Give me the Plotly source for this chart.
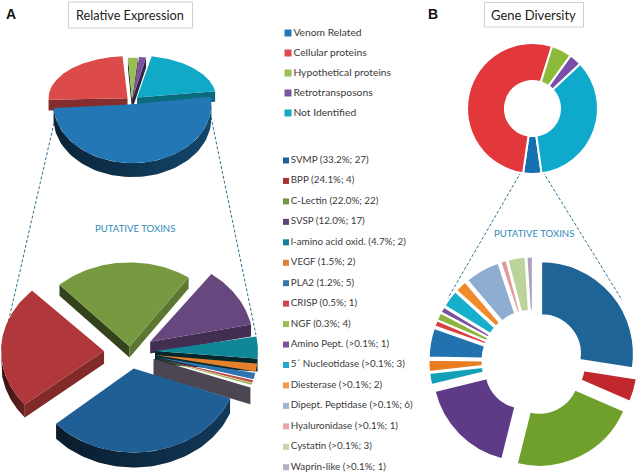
import numpy as np
import plotly.graph_objects as go

# ---- data ----
OVERVIEW_CATS = ["Venom Related", "Cellular proteins", "Hypothetical proteins", "Retrotransposons", "Not Identified"]
OVERVIEW_COLORS = ["#2277B4", "#DC4A4A", "#98BE55", "#7A549F", "#10A9C6"]
EXPR_SHARE = [51.4, 25.0, 2.0, 1.6, 20.0]
EXPR_PULL = [4.5, 6, 2, 3, 7]
GENE_SHARE = [16, 186, 18, 11, 123]

TOXINS = ["SVMP (33.2%; 27)", "BPP (24.1%; 4)", "C-Lectin (22.0%; 22)", "SVSP (12.0%; 17)",
          "l-amino acid oxid. (4.7%; 2)", "VEGF (1.5%; 2)", "PLA2 (1.2%; 5)", "CRISP (0.5%; 1)",
          "NGF (0.3%; 4)", "Amino Pept. (>0.1%; 1)", "5\u00b4 Nucleotidase (>0.1%; 3)",
          "Diesterase (>0.1%; 2)", "Dipept. Peptidase (>0.1%; 6)", "Hyaluronidase (>0.1%; 1)",
          "Cystatin (>0.1%; 3)", "Waprin-like (>0.1%; 1)"]
TOX_COLORS = ["#1F5F95", "#B0383A", "#77993F", "#66487F", "#0F8799", "#E5812C", "#2E75B0", "#C24C48",
              "#8CB43F", "#7A52A0", "#16AFCC", "#F08A2A", "#8FADD0", "#E09A9A", "#BCD49C", "#B0A0C4"]
TOX_LEGEND_COLORS = ["#1F5F95", "#A93232", "#6F9A3C", "#5A4478", "#15809A", "#E0803A", "#3478A8", "#C8484C",
                     "#98BE55", "#7A549F", "#22A8C8", "#F09A4E", "#9DB4D2", "#E6A8A8", "#C6D6AE", "#B8AECA"]
TOX_EXPR = [33.2, 24.1, 22.0, 12.0, 4.7, 1.5, 1.2, 0.5, 0.3, 0.06, 0.06, 0.06, 0.06, 0.06, 0.06, 0.06]
TOX_PULL = [21, 26, 7, 24, 25, 25, 25, 25, 25, 25, 25, 25, 25, 25, 25, 25]
TOX_GENES = [27, 4, 22, 17, 2, 2, 5, 1, 1.3, 1, 3, 2, 6, 1, 3, 1]
TOX_GENE_PULL = [.12, .14, .16, .13, .13, .13, .13, .13, .13, .13, .13, .13, .13, .13, .13, .13]
TOX_GENE_COLORS = ["#1F6496", "#C0282D", "#6FA02C", "#5F3A87", "#12A0B8", "#E87E20", "#2272B0", "#D9403F",
                   "#8CB43F", "#7A52A0", "#16AFCC", "#F08A2A", "#8FADD0", "#E09A9A", "#BCD49C", "#B0A0C4"]

W, H = 640, 474
fig = go.Figure()


def shade(color, f):
    r, g, b = int(color[1:3], 16), int(color[3:5], 16), int(color[5:7], 16)
    return "rgb(%d,%d,%d)" % (r * f, g * f, b * f)


def poly(xs, ys, color, grad=None):
    kw = dict(fillcolor=color)
    if grad:
        kw = dict(fillgradient=dict(type="horizontal", colorscale=[[0, grad[0]], [1, grad[1]]]))
    fig.add_trace(go.Scatter(x=xs, y=ys, mode="lines", fill="toself", line=dict(width=0),
                             hoverinfo="skip", showlegend=False, **kw))


def pie3d(shares, colors, pulls, start, cx, cy, rx, ry_back, ry_front, depth, ratio, wall_over=None, thin=0.0):
    total = sum(shares)
    spans, a = [], start
    for s in shares:
        b = a + s / total * 360
        spans.append((a, b))
        a = b
    # back slices first, front slices last
    order = sorted(range(len(shares)), key=lambda i: -np.cos(np.radians(sum(spans[i]) / 2)))
    last = len(shares) - 1
    for i in order:
        a0, a1 = spans[i]
        if shares[i] >= 2.5:
            a0, a1 = a0 + .7, a1 - .7
        mid = (a0 + a1) / 2
        m = np.radians(mid)
        ax = cx + pulls[i] * np.sin(m)
        ay = cy - pulls[i] * ratio * np.cos(m)
        ry = ry_front if np.cos(m) < 0 else ry_back
        d = depth - 2 * np.cos(m)
        col = colors[i]
        is_thin = shares[i] < thin
        closing = wall_over is not None and i == last
        if closing:
            d += 3

        def pt(t):
            t = np.radians(t)
            return ax + rx * np.sin(t), ay - ry * np.cos(t)

        if not is_thin or closing:
            # radial walls
            for t, n in ((a0, a0 - 90), (a1, a1 + 90)):
                if np.cos(np.radians(n)) < 0:
                    f = .6 + .22 * np.sin(np.radians(n))
                    if shares[i] < 10:
                        f *= .5
                    px, py = pt(t)
                    wc = wall_over if closing else shade(col, f)
                    poly([ax, px, px, ax, ax], [ay, py, py + d, ay + d, ay], wc)
            # outer wall
            lo, hi = a0 % 360, a0 % 360 + (a1 - a0)
            lo, hi = max(lo, 90), min(hi, 270)
            if hi > lo:
                ts = np.linspace(lo, hi, 60)
                xs, ys = pt(ts)
                poly(np.r_[xs, xs[::-1], xs[0]], np.r_[ys, ys[::-1] + d, ys[0]], wall_over if closing else col,
                     grad=None if closing else (shade(col, .3), shade(col, .6)))
        # top surface
        ts = np.linspace(a0, a1, 80)
        xs, ys = pt(ts)
        poly(np.r_[ax, xs, ax], np.r_[ay, ys, ay], col)


# 3-D style pies of panel A
pie3d(EXPR_SHARE, OVERVIEW_COLORS, EXPR_PULL, 82, 132, 101, 79, 42, 59, 12, .7)
pie3d(TOX_EXPR, TOX_COLORS, TOX_PULL, 110, 130, 352, 103, 84, 84, 13, .8, wall_over="#4C4652", thin=2.0)


def dom(x0, x1, y0, y1):
    return dict(x=[x0 / W, x1 / W], y=[1 - y1 / H, 1 - y0 / H])


# Panel B donuts
fig.add_trace(go.Pie(values=GENE_SHARE, labels=OVERVIEW_CATS, sort=False, direction="clockwise", rotation=172,
                     hole=.42, textinfo="none", showlegend=False,
                     marker=dict(colors=["#1470B0", "#E2383C", "#8CBB3C", "#7A4FA8", "#0FA9CC"],
                                 line=dict(color="white", width=2)),
                     domain=dom(467, 598, 43, 174)))
fig.add_trace(go.Pie(values=TOX_GENES, labels=TOXINS, sort=False, direction="clockwise", rotation=0,
                     hole=.42, textinfo="none", showlegend=False, pull=TOX_GENE_PULL,
                     marker=dict(colors=TOX_GENE_COLORS, line=dict(color="white", width=1.5)),
                     domain=dom(426, 640, 254, 468)))

# Legends
FONT = "Lato"
TXT = "#3A3A3A"
fig.add_trace(go.Scatter(x=[288] * 5, y=[33 + 20 * i for i in range(5)], mode="markers+text",
                         marker=dict(symbol="square", size=7, color=OVERVIEW_COLORS),
                         text=OVERVIEW_CATS, textposition="middle right",
                         textfont=dict(family=FONT, size=10.3, color=TXT), hoverinfo="skip", showlegend=False))
fig.add_trace(go.Scatter(x=[286] * 16, y=[160.5 + 20.45 * i for i in range(16)], mode="markers+text",
                         marker=dict(symbol="square", size=6, color=TOX_LEGEND_COLORS),
                         text=TOXINS, textposition="middle right",
                         textfont=dict(family=FONT, size=9.8, color=TXT), hoverinfo="skip", showlegend=False))

shapes = []
for x0, x1, y0, y1 in ((68.5, 192.5, 2, 28), (484.5, 583.5, 2.5, 27)):
    shapes.append(dict(type="rect", x0=x0, x1=x1, y0=y0, y1=y1, line=dict(color="#CFCFCF", width=1),
                       fillcolor="white", layer="below"))
for x0, y0, x1, y1 in ((54, 123, 6, 332), (211, 117, 256, 335), (521, 172, 448, 298), (543, 172, 622, 300)):
    shapes.append(dict(type="line", x0=x0, y0=y0, x1=x1, y1=y1,
                       line=dict(color="#2F6F8F", width=1, dash="3px,2px"), layer="below"))

anns = []
for txt, x, y, size, col, fam, bold in (
        ("A", 11, 14, 14, "#111111", "Liberation Sans", True),
        ("B", 433, 14, 14, "#111111", "Liberation Sans", True),
        ("Relative Expression", 129.5, 14.5, 12.7, "#222222", FONT, False),
        ("Gene Diversity", 533, 15, 13, "#222222", FONT, False),
        ("PUTATIVE TOXINS", 134.5, 228, 9.6, "#2F8AB8", FONT, False),
        ("PUTATIVE TOXINS", 534, 233, 9.6, "#2F8AB8", FONT, False)):
    anns.append(dict(text="<b>%s</b>" % txt if bold else txt, x=x, y=y, xref="x", yref="y", showarrow=False,
                     xanchor="center", yanchor="middle", font=dict(family=fam, size=size, color=col)))

fig.update_layout(width=W, height=H, margin=dict(l=0, r=0, t=0, b=0), paper_bgcolor="white",
                  plot_bgcolor="white", showlegend=False, shapes=shapes, annotations=anns,
                  xaxis=dict(range=[0, W], visible=False, fixedrange=True, domain=[0, 1]),
                  yaxis=dict(range=[H, 0], visible=False, fixedrange=True, domain=[0, 1]))
fig.write_html("out.html", config=dict(displayModeBar=False),
               post_script="document.body.style.margin='0';document.documentElement.style.overflow='hidden';")
